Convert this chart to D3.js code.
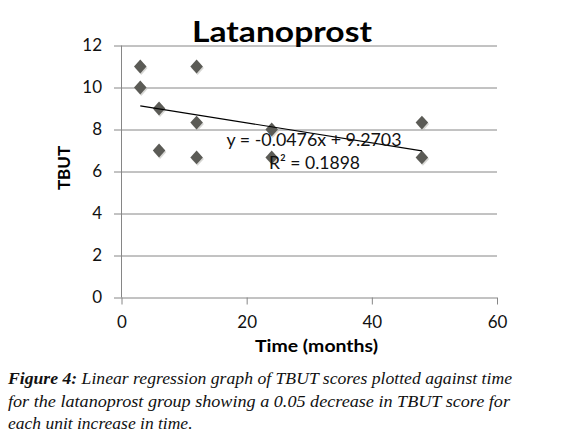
<!DOCTYPE html>
<html>
<head>
<meta charset="utf-8">
<script src="https://cdn.jsdelivr.net/npm/d3@7"></script>
<style>
  html, body { margin: 0; padding: 0; background: #fff; }
  svg { display: block; }
</style>
</head>
<body>
<svg id="chart" width="561" height="438"></svg>
<script>
// ---- data ----
const timeMonths = [3, 3, 6, 6, 12, 12, 12, 24, 24, 48, 48];
const tbutScores = [11, 10, 9, 7, 11, 8.33, 6.67, 8, 6.67, 8.33, 6.67];
const xTickValues = [0, 20, 40, 60];
const yTickValues = [0, 2, 4, 6, 8, 10, 12];
const trendSlope = -0.0476;
const trendIntercept = 9.2703;
const trendXRange = [3, 48];
const equationText = "y = -0.0476x + 9.2703";
const r2Text = "R\u00B2 = 0.1898";
const titleText = "Latanoprost";
const xLabelText = "Time (months)";
const yLabelText = "TBUT";
const captionLines = [
  [{t: "Figure 4:", b: true}, {t: " Linear regression graph of TBUT scores plotted against time", b: false}],
  [{t: "for the latanoprost group showing a 0.05 decrease in TBUT score for", b: false}],
  [{t: "each unit increase in time.", b: false}]
];

// ---- layout ----
const svg = d3.select("#chart");
const sans = "Lato, 'Open Sans', sans-serif";
const serif = "'Liberation Serif', 'DejaVu Serif', serif";
const gridColor = "#868686";

const x = d3.scaleLinear().domain([0, 60]).range([121.5, 497]);
const y = d3.scaleLinear().domain([0, 12]).range([297.5, 45.5]);

svg.append("rect").attr("width", 561).attr("height", 438).attr("fill", "#fff");

// y axis with gridlines (ticks extend left of axis by 7px)
const yAxis = d3.axisLeft(y).tickValues(yTickValues).tickSize(-(497 - 114)).tickPadding(12);
const gy = svg.append("g").attr("transform", "translate(114,0)").call(yAxis);
gy.select(".domain").remove();
gy.selectAll(".tick line").attr("stroke", gridColor);
gy.selectAll(".tick text").attr("font-family", sans).attr("font-size", 17).attr("fill", "#111");

// x axis ticks
const xAxis = d3.axisBottom(x).tickValues(xTickValues).tickSize(7).tickPadding(11);
const gx = svg.append("g").attr("transform", "translate(0,297.5)").call(xAxis);
gx.select(".domain").remove();
gx.selectAll(".tick line").attr("stroke", gridColor);
gx.selectAll(".tick text").attr("font-family", sans).attr("font-size", 17).attr("fill", "#111");

// vertical axis line
svg.append("line")
  .attr("x1", x(0)).attr("x2", x(0))
  .attr("y1", y(12)).attr("y2", y(0))
  .attr("stroke", gridColor);

// points (diamonds)
const pts = timeMonths.map((t, i) => ({t, v: tbutScores[i]}));
const diamond = d3.symbol().type(d3.symbolDiamond2).size(100);
svg.append("g").selectAll("path.shadow").data(pts).join("path")
  .attr("d", diamond)
  .attr("transform", d => `translate(${x(d.t) + 1},${y(d.v) + 1.5}) scale(1,1.1)`)
  .attr("fill", "#bdbdb8").attr("opacity", 0.6);
svg.append("g").selectAll("path.pt").data(pts).join("path")
  .attr("d", diamond)
  .attr("transform", d => `translate(${x(d.t)},${y(d.v)}) scale(1,1.1)`)
  .attr("fill", "#5b5b56");

// trendline
svg.append("line")
  .attr("x1", x(trendXRange[0])).attr("y1", y(trendIntercept + trendSlope * trendXRange[0]))
  .attr("x2", x(trendXRange[1])).attr("y2", y(trendIntercept + trendSlope * trendXRange[1]))
  .attr("stroke", "#000").attr("stroke-width", 1.2);

// equation
svg.append("text").attr("x", 226.5).attr("y", 146)
  .attr("font-family", sans).attr("font-size", 18).attr("fill", "#111")
  .attr("textLength", 175).attr("lengthAdjust", "spacingAndGlyphs")
  .text(equationText);
svg.append("text").attr("x", 269).attr("y", 168.5)
  .attr("font-family", sans).attr("font-size", 18).attr("fill", "#111")
  .attr("textLength", 91).attr("lengthAdjust", "spacingAndGlyphs")
  .text(r2Text);

// title
svg.append("text").attr("x", 192).attr("y", 41.5)
  .attr("font-family", sans).attr("font-size", 28).attr("font-weight", "bold").attr("fill", "#000")
  .attr("textLength", 180).attr("lengthAdjust", "spacingAndGlyphs")
  .text(titleText);

// axis titles
svg.append("text").attr("x", 255).attr("y", 352)
  .attr("font-family", sans).attr("font-size", 17).attr("font-weight", "bold").attr("fill", "#000")
  .attr("textLength", 123).attr("lengthAdjust", "spacingAndGlyphs")
  .text(xLabelText);
svg.append("text")
  .attr("transform", "translate(70,168) rotate(-90)")
  .attr("text-anchor", "middle")
  .attr("font-family", sans).attr("font-size", 17).attr("font-weight", "bold").attr("fill", "#000")
  .text(yLabelText);

// caption
const capBase = [383.5, 406.5, 429];
const capLen = [504, 502, null];
captionLines.forEach((line, i) => {
  const t = svg.append("text").attr("x", 8).attr("y", capBase[i])
    .attr("font-family", serif).attr("font-size", 17.5).attr("font-style", "italic").attr("fill", "#111");
  if (capLen[i]) t.attr("textLength", capLen[i]).attr("lengthAdjust", "spacingAndGlyphs");
  line.forEach(seg => {
    t.append("tspan").attr("font-weight", seg.b ? "bold" : "normal").text(seg.t);
  });
});
</script>
</body>
</html>
